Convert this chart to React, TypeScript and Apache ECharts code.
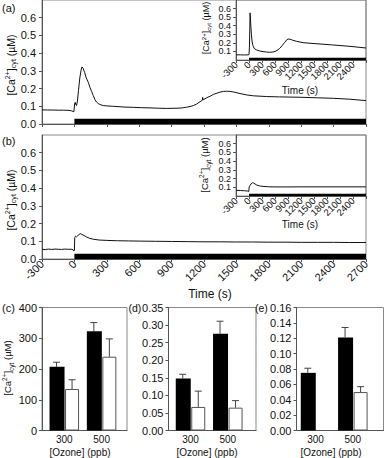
import React, { useEffect, useRef } from 'react';
import * as echarts from 'echarts';

// ---------- data ----------
const stimulus = [[0, 2700, 0.03]]; // ozone exposure bar: start, end, drawn height
const insetStimulus = [[0, 2700, 0.025]];

const traceA: number[][] = [
  [-300, 0.080], [-250, 0.079], [-200, 0.079], [-150, 0.078], [-100, 0.078], [-50, 0.077], [-25, 0.074],
  [-5, 0.069], [0, 0.070], [3, 0.118], [8, 0.122], [14, 0.108], [20, 0.104], [28, 0.13], [38, 0.19],
  [50, 0.26], [62, 0.305], [70, 0.322], [80, 0.315], [95, 0.29], [110, 0.26], [129, 0.235], [145, 0.205],
  [160, 0.183], [175, 0.16], [191, 0.137], [205, 0.124], [222, 0.115], [245, 0.108], [268, 0.104],
  [300, 0.102], [360, 0.100], [450, 0.096], [546, 0.094], [620, 0.092], [700, 0.091], [780, 0.089],
  [854, 0.088], [950, 0.089], [1000, 0.091], [1040, 0.095], [1080, 0.100], [1101, 0.104], [1130, 0.112],
  [1163, 0.126], [1185, 0.134], [1188, 0.150], [1191, 0.136], [1225, 0.148], [1260, 0.158], [1287, 0.167],
  [1320, 0.174], [1348, 0.180], [1380, 0.184], [1410, 0.185], [1440, 0.184], [1472, 0.181], [1533, 0.172],
  [1595, 0.164], [1660, 0.159], [1780, 0.155], [1900, 0.153], [2089, 0.151], [2250, 0.148], [2398, 0.145],
  [2550, 0.140], [2700, 0.132],
];

const insetA: number[][] = [
  [-300, 0.060], [-200, 0.060], [-100, 0.059], [-20, 0.060], [0, 0.063], [10, 0.15], [18, 0.35], [25, 0.55],
  [30, 0.52], [40, 0.42], [55, 0.30], [70, 0.22], [90, 0.17], [120, 0.135], [170, 0.118], [250, 0.105],
  [324, 0.098], [400, 0.093], [477, 0.090], [550, 0.093], [600, 0.100], [650, 0.112], [708, 0.135],
  [760, 0.165], [823, 0.205], [870, 0.235], [900, 0.245], [940, 0.243], [1000, 0.232], [1100, 0.218],
  [1246, 0.202], [1500, 0.192], [1708, 0.184], [1900, 0.177], [2170, 0.166], [2400, 0.156], [2700, 0.140],
];

const traceB: number[][] = [
  [-300, 0.055], [-270, 0.053], [-240, 0.056], [-210, 0.054], [-180, 0.056], [-150, 0.055], [-120, 0.054],
  [-90, 0.056], [-60, 0.055], [-30, 0.055], [-12, 0.052], [-5, 0.045], [0, 0.050], [3, 0.120], [10, 0.128],
  [20, 0.125], [30, 0.13], [45, 0.140], [55, 0.143], [70, 0.139], [90, 0.132], [110, 0.125], [140, 0.117],
  [180, 0.111], [230, 0.107], [300, 0.105], [400, 0.103], [500, 0.102], [600, 0.101], [750, 0.100],
  [900, 0.099], [1050, 0.098], [1200, 0.097], [1350, 0.097], [1500, 0.096], [1650, 0.096], [1800, 0.095],
  [1950, 0.095], [2100, 0.094], [2250, 0.094], [2400, 0.094], [2550, 0.093], [2700, 0.093],
];

const insetB: number[][] = [
  [-300, 0.065], [-200, 0.063], [-100, 0.060], [-30, 0.057], [-5, 0.052], [0, 0.055], [5, 0.105],
  [20, 0.118], [50, 0.14], [77, 0.152], [110, 0.148], [170, 0.128], [240, 0.116], [324, 0.110],
  [450, 0.106], [600, 0.104], [900, 0.104], [1200, 0.105], [1500, 0.105], [1800, 0.105], [2100, 0.105],
  [2400, 0.105], [2700, 0.105],
];

const ozoneLevels = ['300', '500'];

const cBlack = [207, 323];
const cBlackErr = [15, 28];
const cWhite = [135, 240];
const cWhiteErr = [30, 58];

const dBlack = [0.148, 0.275];
const dBlackErr = [0.012, 0.036];
const dWhite = [0.067, 0.065];
const dWhiteErr = [0.045, 0.020];

const eBlack = [0.075, 0.121];
const eBlackErr = [0.006, 0.013];
const eWhite = [0, 0.050];
const eWhiteErr = [0, 0.007];

// ---------- styling ----------
const FONT = 'Liberation Sans, Arial, Helvetica, sans-serif';
const AXIS = '#555';
const FRAME = '#8a8a8a';
const TXT = '#111';
const OFF = 0.208; // half-pair offset in category units

function caText(fs: number) {
  return {
    text: '[Ca{sup|2+}]{sub|cyt} (µM)',
    fontSize: fs,
    fontFamily: FONT,
    fill: TXT,
    lineHeight: fs * 1.3,
    align: 'center',
    verticalAlign: 'top',
    rich: {
      sup: { fontSize: fs * 0.68, fontFamily: FONT, fill: TXT, lineHeight: fs * 0.7, verticalAlign: 'top' },
      sub: { fontSize: fs * 0.68, fontFamily: FONT, fill: TXT, lineHeight: fs * 0.7, verticalAlign: 'bottom' },
    },
  };
}

function plainText(x: number, y: number, text: string, fs: number, align = 'center') {
  return {
    type: 'text', x, y, silent: true,
    style: { text, fontSize: fs, fontFamily: FONT, fill: TXT, align, verticalAlign: 'middle' },
  };
}

// cx, cy: desired centre of the rotated title
function rotatedCa(cx: number, cy: number, fs: number) {
  return { type: 'text', x: cx - (fs * 1.3) / 2, y: cy, rotation: Math.PI / 2, silent: true, style: caText(fs) };
}

function grid(left: number, top: number, width: number, height: number) {
  return { left, top, width, height, show: true, borderColor: FRAME, borderWidth: 1, backgroundColor: 'transparent' };
}

function timeX(gridIndex: number, showLabels: boolean, fontSize: number, hideLast: boolean) {
  return {
    type: 'value', gridIndex, min: -300, max: 2700, interval: 300,
    axisLine: { show: true, onZero: false, lineStyle: { color: AXIS, width: 1 } },
    axisTick: { show: true, length: 3, lineStyle: { color: AXIS } },
    axisLabel: {
      show: showLabels, rotate: 45, fontSize, fontFamily: FONT, color: TXT, margin: 3,
      formatter: (v: number) => (hideLast && v === 2700 ? '' : String(v)),
    },
    splitLine: { show: false },
  };
}

function valY(gridIndex: number, max: number, interval: number, digits: number, fontSize: number, margin: number, hideMax: boolean) {
  return {
    type: 'value', gridIndex, min: 0, max, interval,
    axisLine: { show: true, onZero: false, lineStyle: { color: AXIS, width: 1 } },
    axisTick: { show: true, length: 3, lineStyle: { color: AXIS } },
    axisLabel: {
      fontSize, fontFamily: FONT, color: TXT, margin, showMaxLabel: !hideMax,
      formatter: (v: number) => v.toFixed(digits),
    },
    splitLine: { show: false },
  };
}

function barX(gridIndex: number, min: number, max: number) {
  return {
    type: 'value', gridIndex, min, max,
    axisLine: { show: true, onZero: false, lineStyle: { color: AXIS, width: 1 } },
    axisTick: { show: false },
    axisLabel: {
      customValues: [1, 2], fontSize: 10, fontFamily: FONT, color: TXT, margin: 4,
      formatter: (v: number) => ozoneLevels[Math.round(v) - 1] || '',
    },
    splitLine: { show: false },
  };
}

function lineSeries(idx: number, data: number[][]) {
  return {
    type: 'line', xAxisIndex: idx, yAxisIndex: idx, data, showSymbol: false, silent: true,
    lineStyle: { color: '#111', width: 1 }, z: 4,
  };
}

function stimSeries(idx: number, data: number[][]) {
  return {
    type: 'custom', xAxisIndex: idx, yAxisIndex: idx, data, silent: true,
    encode: { x: [0, 1], y: 2 },
    renderItem: (_p: any, api: any) => {
      const a = api.coord([api.value(0), api.value(2)]);
      const b = api.coord([api.value(1), 0]);
      return { type: 'rect', shape: { x: a[0], y: a[1], width: b[0] - a[0], height: b[1] - a[1] }, style: { fill: '#000' } };
    },
    z: 3,
  };
}

function barSeries(idx: number, black: number[], blackErr: number[], white: number[], whiteErr: number[]) {
  const blackData = black.map((v, i) => [i + 1 - OFF, v]);
  const whiteData = white.map((v, i) => [i + 1 + OFF, v]).filter((d) => d[1] > 0);
  const errData = [
    ...black.map((v, i) => [i + 1 - OFF, v, v + blackErr[i]]),
    ...white.map((v, i) => [i + 1 + OFF, v, v + whiteErr[i]]).filter((d) => d[1] > 0),
  ];
  return [
    {
      type: 'bar', xAxisIndex: idx, yAxisIndex: idx, data: blackData, barWidth: 15, barGap: '-100%', silent: true,
      itemStyle: { color: '#000' },
    },
    {
      type: 'bar', xAxisIndex: idx, yAxisIndex: idx, data: whiteData, barWidth: 14, barGap: '-100%', silent: true,
      itemStyle: { color: '#fff', borderColor: '#555', borderWidth: 1 },
    },
    {
      type: 'custom', xAxisIndex: idx, yAxisIndex: idx, data: errData, silent: true,
      encode: { x: 0, y: [1, 2] },
      renderItem: (_p: any, api: any) => {
        const x = api.value(0);
        const p0 = api.coord([x, api.value(1)]);
        const p1 = api.coord([x, api.value(2)]);
        return {
          type: 'group',
          children: [
            { type: 'line', shape: { x1: p0[0], y1: p0[1], x2: p1[0], y2: p1[1] }, style: { stroke: '#444', lineWidth: 1 } },
            { type: 'line', shape: { x1: p1[0] - 3.5, y1: p1[1], x2: p1[0] + 3.5, y2: p1[1] }, style: { stroke: '#444', lineWidth: 1 } },
          ],
        };
      },
      z: 5,
    },
  ];
}

const option: any = {
  animation: false,
  backgroundColor: '#fff',
  grid: [
    grid(42, 0, 324, 124),       // (a) main
    grid(236, 0, 130, 60),       // (a) inset
    grid(42, 135, 324, 124),     // (b) main
    grid(236, 135, 130, 61),     // (b) inset
    grid(42, 307.5, 85, 123),    // (c)
    grid(168.5, 307.5, 87.5, 123), // (d)
    grid(296.5, 307.5, 87, 123), // (e)
  ],
  xAxis: [
    timeX(0, false, 11, false),
    timeX(1, true, 9.5, true),
    timeX(2, true, 11, false),
    timeX(3, true, 9.5, true),
    barX(4, 0.402, 2.681),
    barX(5, 0.41, 2.756),
    barX(6, 0.49, 2.822),
  ],
  yAxis: [
    valY(0, 0.7, 0.1, 1, 11, 6, true),
    valY(1, 0.7, 0.1, 1, 9, 5, true),
    valY(2, 0.7, 0.1, 1, 11, 6, true),
    valY(3, 0.7, 0.1, 1, 9, 5, true),
    valY(4, 400, 100, 0, 11, 5, false),
    valY(5, 0.35, 0.05, 2, 11, 5, false),
    valY(6, 0.16, 0.02, 2, 11, 5, false),
  ],
  series: [
    stimSeries(0, stimulus),
    lineSeries(0, traceA),
    stimSeries(1, insetStimulus),
    lineSeries(1, insetA),
    stimSeries(2, stimulus),
    lineSeries(2, traceB),
    stimSeries(3, insetStimulus),
    lineSeries(3, insetB),
    ...barSeries(4, cBlack, cBlackErr, cWhite, cWhiteErr),
    ...barSeries(5, dBlack, dBlackErr, dWhite, dWhiteErr),
    ...barSeries(6, eBlack, eBlackErr, eWhite, eWhiteErr),
  ],
  graphic: [
    plainText(2, 8, '(a)', 11, 'left'),
    plainText(2, 141, '(b)', 11, 'left'),
    plainText(2, 308, '(c)', 11, 'left'),
    plainText(128.5, 308, '(d)', 10.5, 'left'),
    plainText(255, 308, '(e)', 10.5, 'left'),
    rotatedCa(11, 65, 10.5),
    rotatedCa(11, 200, 10.5),
    rotatedCa(206, 28, 9),
    rotatedCa(205, 165, 9.5),
    rotatedCa(8, 368, 9.5),
    plainText(300, 90, 'Time (s)', 10),
    plainText(300, 224, 'Time (s)', 10),
    plainText(210, 294, 'Time (s)', 12),
    plainText(80, 452.5, '[Ozone] (ppb)', 10),
    plainText(207, 452.5, '[Ozone] (ppb)', 10),
    plainText(331, 452.5, '[Ozone] (ppb)', 10),
  ],
};

export default function App() {
  const ref = useRef<HTMLDivElement>(null);
  useEffect(() => {
    if (!ref.current) return;
    const chart = echarts.init(ref.current, null, { renderer: 'svg' });
    chart.setOption(option);
    return () => chart.dispose();
  }, []);
  return (
    <div
      ref={ref}
      style={{ position: 'absolute', left: 0, top: 0, width: 384, height: 458, background: '#fff' }}
    />
  );
}
